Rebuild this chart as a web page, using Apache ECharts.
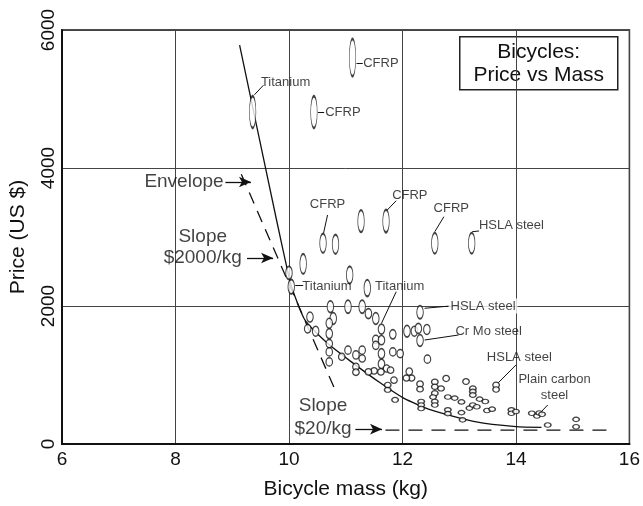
<!DOCTYPE html>
<html>
<head>
<meta charset="utf-8">
<script src="https://cdn.jsdelivr.net/npm/echarts@6/dist/echarts.min.js"></script>
<style>
html, body { margin: 0; padding: 0; background: #fff; }
#main { width: 643px; height: 506px; }
</style>
</head>
<body>
<div id="main"></div>
<script>
// axis ranges / ticks
var massRange = [6, 16];
var priceRange = [0, 6000];
var massStep = 2;
var priceStep = 2000;

// each bike: [mass kg, price US$, price spread US$ (height of the ellipse)]
var bikes = [
    [11.12, 5600, 540], [9.36, 4810, 460], [10.44, 4810, 460],
    [11.27, 3230, 320], [11.71, 3230, 330], [10.60, 2910, 280], [10.82, 2895, 280],
    [12.57, 2910, 300], [13.22, 2910, 300], [10.25, 2610, 290], [11.07, 2450, 250],
    [10.00, 2480, 190], [10.04, 2280, 210], [11.38, 2260, 240],
    [10.73, 1990, 170], [11.04, 1990, 190], [11.29, 1990, 190], [11.40, 1890, 145],
    [11.53, 1820, 170], [10.37, 1840, 145], [10.78, 1820, 170], [10.71, 1750, 145],
    [10.33, 1670, 120], [10.47, 1635, 145], [10.71, 1600, 145], [11.63, 1665, 145],
    [11.83, 1590, 135], [12.08, 1635, 170], [12.21, 1635, 145], [12.28, 1675, 145],
    [12.43, 1660, 145], [12.31, 1910, 190], [12.31, 1500, 170], [11.53, 1515, 120],
    [11.63, 1505, 135], [11.53, 1430, 120], [10.71, 1455, 120], [10.71, 1335, 120],
    [11.04, 1360, 120], [11.29, 1360, 120], [11.18, 1290, 120], [11.29, 1240, 105],
    [10.93, 1265, 105], [11.63, 1310, 145], [11.83, 1335, 120], [11.96, 1310, 120],
    [12.44, 1230, 120], [10.71, 1190, 120], [11.18, 1120, 105], [11.63, 1160, 135],
    [11.72, 1095, 105], [11.79, 1070, 95], [11.50, 1060, 95], [11.40, 1045, 95],
    [11.62, 1045, 95], [11.18, 1040, 95], [12.12, 1050, 105], [12.16, 955, 90],
    [12.07, 955, 90], [11.85, 925, 95], [11.74, 855, 80], [11.74, 785, 70],
    [11.87, 640, 70],
    [12.31, 870, 90], [12.31, 795, 80], [12.33, 615, 65], [12.33, 565, 60], [12.33, 515, 60],
    [12.57, 900, 80], [12.57, 830, 75], [12.68, 805, 75], [12.57, 735, 75],
    [12.54, 680, 65], [12.57, 615, 65], [12.57, 565, 60], [12.77, 950, 90],
    [12.80, 680, 65], [12.92, 665, 65], [12.80, 495, 60], [12.80, 440, 55],
    [13.04, 610, 60], [13.04, 455, 55], [13.06, 350, 50], [13.12, 905, 85],
    [13.18, 520, 55], [13.24, 565, 60], [13.24, 805, 75], [13.24, 760, 70],
    [13.24, 710, 70], [13.36, 650, 65], [13.46, 615, 65], [13.31, 540, 60],
    [13.49, 485, 55], [13.58, 505, 55], [13.65, 855, 85], [13.65, 790, 80],
    [13.92, 495, 60], [13.92, 445, 55], [14.00, 470, 50], [14.28, 445, 55],
    [14.37, 405, 55], [14.41, 450, 55], [14.46, 430, 55], [14.56, 275, 50],
    [15.06, 357, 50], [15.06, 250, 50]
];

// lower envelope of the cloud
var envelope = [
    [9.13, 5780], [9.78, 3250], [10.0, 2420], [10.07, 2220], [10.28, 1800],
    [10.68, 1460], [11.1, 1190], [11.6, 890], [12.02, 665], [12.5, 495],
    [13.3, 320], [14.0, 252], [14.45, 242]
];
var slope2000 = [[9.16, 3910], [10.81, 790]];
var slope20 = [[11.7, 200], [15.75, 200]];

// small material tags [text, mass, price]
var tags = [
    ['Titanium', 9.94, 5246], ['CFRP', 11.62, 5520], ['CFRP', 10.95, 4812],
    ['CFRP', 10.68, 3478], ['CFRP', 12.13, 3609], ['CFRP', 12.86, 3416],
    ['HSLA steel', 13.92, 3174], ['Titanium', 10.67, 2290], ['Titanium', 11.95, 2290],
    ['HSLA steel', 13.42, 2000], ['Cr Mo steel', 13.52, 1628], ['HSLA steel', 14.06, 1256],
    ['Plain carbon', 14.68, 937], ['steel', 14.68, 710]
];
// leader lines [mass1, price1, mass2, price2]
var leaders = [
    [9.39, 5060, 9.55, 5200], [11.19, 5520, 11.30, 5520], [10.51, 4812, 10.62, 4812],
    [10.61, 3058, 10.68, 3319], [11.72, 3381, 11.89, 3526], [12.57, 3077, 12.73, 3294],
    [13.23, 3077, 13.35, 3087], [10.11, 2300, 10.25, 2300], [11.63, 1749, 11.89, 2207],
    [12.39, 1967, 12.84, 2000], [12.39, 1507, 12.99, 1580], [13.68, 880, 14.0, 1145],
    [14.42, 445, 14.56, 565]
];
// big notes [text, mass, price]
var notes = [
    ['Envelope', 8.15, 3797], ['Slope', 8.48, 3000], ['$2000/kg', 8.48, 2696],
    ['Slope', 10.60, 551], ['$20/kg', 10.60, 215]
];
// arrows [mass1, price1, mass2, price2]
var arrows = [
    [8.88, 3797, 9.33, 3797], [9.26, 2696, 9.72, 2696], [11.17, 215, 11.64, 215]
];

var FONT = '"Liberation Sans", Arial, Helvetica, sans-serif';
var INK = '#111';
var ELLIPSE = 'path://M0,-1C0.552,-1 1,-0.552 1,0C1,0.552 0.552,1 0,1C-0.552,1 -1,0.552 -1,0C-1,-0.552 -0.552,-1 0,-1Z';

var chart = echarts.init(document.getElementById('main'), null, { renderer: 'canvas' });

function segs(list) {
    return list.map(function (s) {
        return [{ coord: [s[0], s[1]] }, { coord: [s[2], s[3]] }];
    });
}

var option = {
    animation: false,
    backgroundColor: '#fff',
    textStyle: { fontFamily: FONT },
    grid: {
        left: 62, right: 13, top: 30, bottom: 62,
        show: true, borderColor: '#111', borderWidth: 1.5
    },
    xAxis: {
        type: 'value', min: massRange[0], max: massRange[1], interval: massStep,
        name: 'Bicycle mass (kg)', nameLocation: 'middle', nameGap: 35,
        nameTextStyle: { fontSize: 21, color: INK, fontFamily: FONT },
        axisLine: { show: true, lineStyle: { color: '#111', width: 2 } },
        axisTick: { show: false },
        axisLabel: { fontSize: 19, color: INK, margin: 6, fontFamily: FONT },
        splitLine: { show: true, lineStyle: { color: '#444', width: 1 } }
    },
    yAxis: {
        type: 'value', min: priceRange[0], max: priceRange[1], interval: priceStep,
        name: 'Price (US $)', nameLocation: 'middle', nameGap: 33,
        nameTextStyle: { fontSize: 21, color: INK, fontFamily: FONT },
        axisLine: { show: true, lineStyle: { color: '#111', width: 2 } },
        axisTick: { show: false },
        axisLabel: {
            fontSize: 19, color: INK, margin: 4, rotate: 90, fontFamily: FONT,
            formatter: function (v) { return String(v); }
        },
        splitLine: { show: true, lineStyle: { color: '#444', width: 1 } }
    },
    graphic: [{
        type: 'group', left: 459, top: 36,
        children: [{
            type: 'rect', shape: { x: 0, y: 0, width: 158, height: 53 },
            style: { fill: '#fff', stroke: '#222', lineWidth: 1.5 }
        }, {
            type: 'text', x: 79, y: 27,
            style: {
                text: 'Bicycles:\nPrice vs Mass', fill: INK, font: '21px ' + FONT,
                align: 'center', verticalAlign: 'middle', lineHeight: 23
            }
        }]
    }],
    series: [{
        type: 'line', name: 'envelope', data: envelope, smooth: 0.2,
        showSymbol: false, symbol: 'none', z: 2,
        lineStyle: { color: INK, width: 1.3 }
    }, {
        type: 'line', name: 'slope2000', data: slope2000, showSymbol: false, symbol: 'none', z: 2,
        lineStyle: { color: INK, width: 1.3, type: [12, 8] }
    }, {
        type: 'line', name: 'slope20', data: slope20, showSymbol: false, symbol: 'none', z: 2,
        lineStyle: { color: INK, width: 1.3, type: [14, 9] }
    }, {
        type: 'scatter', id: 'bikes', data: bikes, z: 5,
        symbol: ELLIPSE, symbolSize: [6, 8],
        itemStyle: { color: '#fff', borderColor: INK, borderWidth: 1.3 }
    }, {
        type: 'scatter', name: 'tags', z: 6, symbolSize: 0, silent: true,
        data: tags.map(function (t) {
            var item = { name: t[0], value: [t[1], t[2]] };
            if (t[0] === 'HSLA steel' && t[2] === 2000) {
                item.label = { backgroundColor: '#fff', padding: [1, 2] };
            }
            return item;
        }),
        label: {
            show: true, position: 'inside', formatter: '{b}',
            fontSize: 13, color: INK, fontFamily: FONT
        },
        markLine: {
            silent: true, symbol: ['none', 'none'], label: { show: false },
            lineStyle: { color: INK, width: 1, type: 'solid' },
            data: segs(leaders)
        }
    }, {
        type: 'scatter', name: 'notes', z: 6, symbolSize: 0, silent: true,
        data: notes.map(function (t) { return { name: t[0], value: [t[1], t[2]] }; }),
        label: {
            show: true, position: 'inside', formatter: '{b}',
            fontSize: 19, color: INK, fontFamily: FONT
        },
        markLine: {
            silent: true, symbol: ['none', 'arrow'], symbolSize: [8, 12],
            label: { show: false },
            lineStyle: { color: INK, width: 1.3, type: 'solid' },
            data: segs(arrows)
        }
    }]
};

chart.setOption(option);

// ellipse heights follow the price spread through the y scale
var p0 = chart.convertToPixel({ gridIndex: 0 }, [8, 0]);
var p1 = chart.convertToPixel({ gridIndex: 0 }, [8, 1000]);
var pxPerDollar = Math.abs(p0[1] - p1[1]) / 1000;
chart.setOption({
    series: [{
        id: 'bikes',
        symbolSize: function (v) {
            return [6.5, Math.max(4.5, v[2] * pxPerDollar)];
        }
    }]
});
</script>
</body>
</html>
